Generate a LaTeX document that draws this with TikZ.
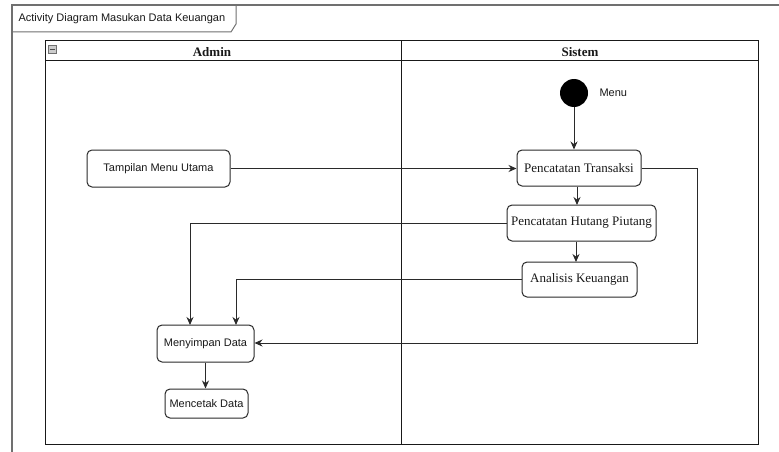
\documentclass[tikz,border=0pt]{standalone}
\usepackage{fontspec}
\setmainfont{Liberation Serif}
\setsansfont{Liberation Sans}
\usetikzlibrary{arrows.meta}
\definecolor{linegray}{HTML}{2A2A2A}
\definecolor{framegray}{HTML}{707070}
\tikzset{
  x=1pt, y=-1pt,
  sansact/.style={draw=linegray, line width=1pt, rounded corners=5pt, fill=white,
    font=\sffamily\fontsize{11}{13}\selectfont, text=black!90, inner sep=0pt},
  serifact/.style={draw=linegray, line width=1pt, rounded corners=5pt, fill=white,
    font=\fontsize{13}{15}\selectfont, text=black!90, inner sep=0pt},
  flow/.style={draw=linegray, line width=1pt, -{Stealth[length=8pt,width=7pt]}},
  lane/.style={draw=black!90, line width=1pt},
  lanehead/.style={font=\bfseries\fontsize{13}{15}\selectfont, text=black!90}
}
\begin{document}
\begin{tikzpicture}
\useasboundingbox (0,0) rectangle (779,452);
\fill[white] (0,0) rectangle (779,452);

% outer frame with its name tab
\draw[framegray, line width=1.2pt] (12,452) -- (12,5) -- (779,5);
\draw[framegray, line width=1pt] (12,32) -- (231,32) -- (236,24) -- (236,5);
\node[font=\sffamily\fontsize{11}{13}\selectfont, text=black!90, anchor=west] (title) at (15,18.5) {Activity Diagram Masukan Data Keuangan};

% swimlane pool
\draw[lane] (45,41) rectangle (758,444);
\draw[lane] (45,61) -- (758,61);
\draw[lane] (401,41) -- (401,444);
\draw[framegray, fill=black!20, line width=0.5pt] (48,45) rectangle (56,53);
\draw[black!70, line width=0.8pt] (49.5,49) -- (54.5,49);
\node[lanehead] (admin) at (212,52) {Admin};
\node[lanehead] (sistem) at (580,52) {Sistem};

% start node
\node[circle, fill=black, minimum size=28pt, inner sep=0pt] (start) at (574,93) {};
\node[font=\sffamily\fontsize{11}{13}\selectfont, text=black!90, anchor=west] (menu) at (596,93) {Menu};

% activities
\node[sansact, minimum width=143pt, minimum height=37pt] (tmu) at (158.5,168.5) {Tampilan Menu Utama};
\node[serifact, minimum width=124pt, minimum height=36pt] (pt) at (579,168) {Pencatatan Transaksi};
\node[serifact, minimum width=149pt, minimum height=36pt] (php) at (581.5,223) {Pencatatan Hutang Piutang};
\node[serifact, minimum width=115pt, minimum height=35pt] (ak) at (579.5,279.5) {Analisis Keuangan};
\node[sansact, minimum width=97pt, minimum height=37pt] (md) at (205.5,343.5) {Menyimpan Data};
\node[sansact, minimum width=83pt, minimum height=29pt] (cd) at (206.5,403.5) {Mencetak Data};

% control flows
\draw[flow] (start.south) -- (start.south |- pt.north);
\draw[flow] (tmu.east) -- (pt.west |- tmu.east);
\draw[flow] (pt.south -| 577,0) -- (577,205);
\draw[flow] (php.south -| 576,0) -- (576,262);
\draw[flow] (php.west) -| (190,325);
\draw[flow] (ak.west) -| (236,325);
\draw[flow] (pt.east) -| (697,343) -- (md.east |- 0,343);
\draw[flow] (md.south) -- (md.south |- cd.north);
\end{tikzpicture}
\end{document}
